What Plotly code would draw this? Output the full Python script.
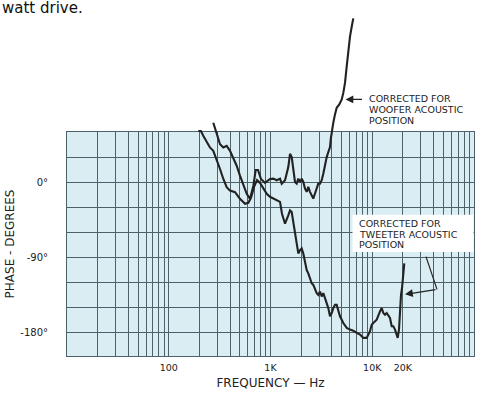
import plotly.graph_objects as go

# ---------------- data ----------------
woofer_freq = [274, 296, 319, 344, 371, 400, 431, 465, 501, 540,
               584, 629, 678, 715, 754, 806, 883, 989, 1066, 1151,
               1240, 1289, 1389, 1496, 1555, 1616, 1676, 1741, 1809, 1876,
               1950, 2026, 2101, 2183, 2268, 2353, 2444, 2540, 2634, 2737,
               2845, 2950, 3065, 3186, 3303, 3433, 3567, 3700, 3844, 3932,
               4049, 4142, 4303, 4473, 4745, 5011, 5195, 5398, 5610, 5816,
               6043, 6281, 6513]
woofer_phase = [71.1, 57.3, 45.4, 41.5, 43.4, 37.5, 29.6, 19.7, 7.8, -4.0,
                -13.9, -19.8, -4.4, 14.6, 14.6, 3.9, -0.8, 3.9, 4.3, 2.4,
                4.3, -1.7, 2.4, 18.1, 33.9, 30.0, 14.2, 0.3, -1.7, 4.3,
                0.3, 4.3, 0.3, -7.6, -11.5, -5.6, -11.5, -15.4, -19.5, -13.5,
                -7.6, -1.7, -1.7, 2.4, 10.2, 22.0, 30.0, 35.9, 41.9, 53.7,
                65.6, 71.1, 81.0, 88.9, 92.9, 98.8, 106.7, 118.6, 138.3, 158.1,
                173.9, 185.7, 195.7]

tweeter_freq = [195, 207, 219, 236, 254, 274, 296, 319, 344, 371,
                400, 448, 501, 562, 605, 643, 689, 737, 789, 850,
                918, 989, 1066, 1151, 1240, 1297, 1389, 1496, 1555, 1616,
                1676, 1741, 1809, 1876, 1950, 2026, 2101, 2183, 2268, 2353,
                2444, 2540, 2634, 2737, 2845, 2950, 3065, 3186, 3303, 3433,
                3567, 3700, 3844, 3995, 4142, 4303, 4473, 4637, 4819, 5195,
                5610, 6043, 6513, 7035, 7579, 8166, 8822, 9504, 9877, 10240,
                11060, 11920, 12390, 12840, 13350, 13870, 14940, 15530, 16100, 16740,
                17390, 17790, 18320, 18740, 19170, 19610, 19930, 20200, 20510, 20650]
tweeter_phase = [61.2, 61.2, 55.3, 47.4, 41.5, 37.5, 27.6, 15.8, 3.9, -5.9,
                 -10.0, -11.9, -19.8, -25.7, -24.6, -18.6, -5.6, 2.7, -0.8, -8.0,
                 -13.9, -17.4, -19.5, -21.4, -23.4, -37.6, -49.5, -39.6, -33.7, -35.6,
                 -47.5, -63.3, -75.2, -85.0, -81.1, -79.1, -85.0, -96.9, -104.9, -108.8,
                 -114.7, -120.6, -122.6, -128.6, -132.5, -134.5, -130.5, -136.4, -132.5, -138.4,
                 -144.3, -150.3, -160.1, -156.2, -150.3, -146.4, -146.4, -152.3, -160.1, -168.1,
                 -174.0, -176.0, -177.2, -179.9, -181.9, -185.9, -185.9, -177.9, -170.1, -168.1,
                 -164.2, -154.2, -150.3, -156.2, -158.2, -156.2, -162.1, -172.0, -172.0, -176.0,
                 -181.9, -185.9, -176.0, -150.3, -134.5, -126.6, -118.6, -110.8, -102.8, -96.9]

x_grid_mantissas = [1, 2, 3, 4, 5, 6, 7, 8, 9]
x_grid_decades = [10, 100, 1000, 10000]
x_label_vals = [100, 1000, 10000, 20000]
x_label_text = ["100", "1K", "10K", "20K"]

y_grid_vals = [-180, -150, -120, -90, -60, -30, 0, 30, 60]
y_label_vals = [0, -90, -180]
y_label_text = ["0°", "-90°", "-180°"]

caption = "watt drive."
woofer_note = ["CORRECTED FOR", "WOOFER ACOUSTIC", "POSITION"]
tweeter_note = ["CORRECTED FOR", "TWEETER ACOUSTIC", "POSITION"]

# ---------------- styling / layout ----------------
W, H = 493, 396
ML, MR, MT, MB = 67, 19, 8, 38
PW, PH = W - ML - MR, H - MT - MB
GRID_TOP_PX = 132.7
Y_MIN, Y_MAX = -207.5, 60
main_frac = (H - MB - GRID_TOP_PX) / PH
y2_max = Y_MAX + (1 - main_frac) / main_frac * (Y_MAX - Y_MIN)

BG = "#d9edf3"
GRID = "#4d616b"
INK = "#222222"
FONT = "DejaVu Sans"


def px_x(p):
    return (p - ML) / PW


def px_y(p):
    return (H - MB - p) / PH


x_grid_vals = [m * d for d in x_grid_decades for m in x_grid_mantissas] + [100000]
x_tick_text = [x_label_text[x_label_vals.index(v)] if v in x_label_vals else "" for v in x_grid_vals]
y_tick_text = [y_label_text[y_label_vals.index(v)] if v in y_label_vals else "" for v in y_grid_vals]

fig = go.Figure()
line_style = dict(color=INK, width=2.1)
for xa, ya in (("x", "y"), ("x2", "y2")):
    fig.add_trace(go.Scatter(x=woofer_freq, y=woofer_phase, mode="lines",
                             line=line_style, xaxis=xa, yaxis=ya, showlegend=False,
                             hoverinfo="skip"))
    fig.add_trace(go.Scatter(x=tweeter_freq, y=tweeter_phase, mode="lines",
                             line=line_style, xaxis=xa, yaxis=ya, showlegend=False,
                             hoverinfo="skip"))

fig.update_layout(
    width=W, height=H,
    margin=dict(l=ML, r=MR, t=MT, b=MB),
    paper_bgcolor="white",
    plot_bgcolor="rgba(0,0,0,0)",
    font=dict(family=FONT, color=INK, size=10),
    xaxis=dict(type="log", range=[1, 5], domain=[0, 1], anchor="y",
               tickmode="array", tickvals=x_grid_vals, ticktext=x_tick_text,
               showgrid=True, gridcolor=GRID, gridwidth=1, ticks="",
               showline=True, mirror=True, linecolor=GRID, linewidth=1,
               zeroline=False, tickfont=dict(size=9.5), ticklabelstandoff=3,
               title=dict(text="FREQUENCY — Hz", font=dict(size=12), standoff=6)),
    yaxis=dict(range=[Y_MIN, Y_MAX], domain=[0, main_frac], anchor="x",
               tickmode="array", tickvals=y_grid_vals, ticktext=y_tick_text,
               showgrid=True, gridcolor=GRID, gridwidth=1, ticks="",
               showline=True, mirror=True, linecolor=GRID, linewidth=1,
               zeroline=False, tickfont=dict(size=10), ticklabelstandoff=16,
               title=dict(text="PHASE - DEGREES", font=dict(size=12), standoff=3)),
    xaxis2=dict(type="log", range=[1, 5], domain=[0, 1], anchor="y2", visible=False),
    yaxis2=dict(range=[Y_MAX, y2_max], domain=[main_frac, 1], anchor="x2", visible=False),
)

# light blue chart paper behind the grid
fig.add_shape(type="rect", xref="x domain", yref="y domain", x0=0, x1=1, y0=0, y1=1,
              fillcolor=BG, line=dict(width=0), layer="below")

# white label box for the tweeter note
fig.add_shape(type="rect", xref="paper", yref="paper",
              x0=px_x(352.5), x1=px_x(473.5), y0=px_y(253.5), y1=px_y(216),
              fillcolor="white", line=dict(width=0), layer="above")

# tweeter leader line (first segment)
fig.add_shape(type="line", xref="paper", yref="paper",
              x0=px_x(426), y0=px_y(258), x1=px_x(437), y1=px_y(291),
              line=dict(color=INK, width=1.2), layer="above")

# arrows
fig.add_annotation(xref="paper", yref="paper", x=px_x(345.5), y=px_y(100),
                   ax=18, ay=0, text="", showarrow=True, arrowhead=2,
                   arrowsize=1.3, arrowwidth=1.2, arrowcolor=INK)
fig.add_annotation(xref="paper", yref="paper", x=px_x(405), y=px_y(296),
                   ax=32, ay=-5, text="", showarrow=True, arrowhead=2,
                   arrowsize=1.3, arrowwidth=1.2, arrowcolor=INK)

# notes
for txt, yp in zip(woofer_note, [99.5, 110.5, 121.5]):
    fig.add_annotation(xref="paper", yref="paper", x=px_x(366.5), y=px_y(yp),
                       xanchor="left", yanchor="middle", text=txt, showarrow=False,
                       font=dict(size=9.5, family=FONT, color=INK))
for txt, yp in zip(tweeter_note, [224.5, 235.3, 246]):
    fig.add_annotation(xref="paper", yref="paper", x=px_x(356.5), y=px_y(yp),
                       xanchor="left", yanchor="middle", text=txt, showarrow=False,
                       font=dict(size=9.5, family=FONT, color=INK))

# caption fragment at top-left
fig.add_annotation(xref="paper", yref="paper", x=px_x(0), y=px_y(8),
                   xanchor="left", yanchor="middle", text=caption, showarrow=False,
                   font=dict(size=15, family=FONT, color="#111"))

fig.write_html("out.html")
